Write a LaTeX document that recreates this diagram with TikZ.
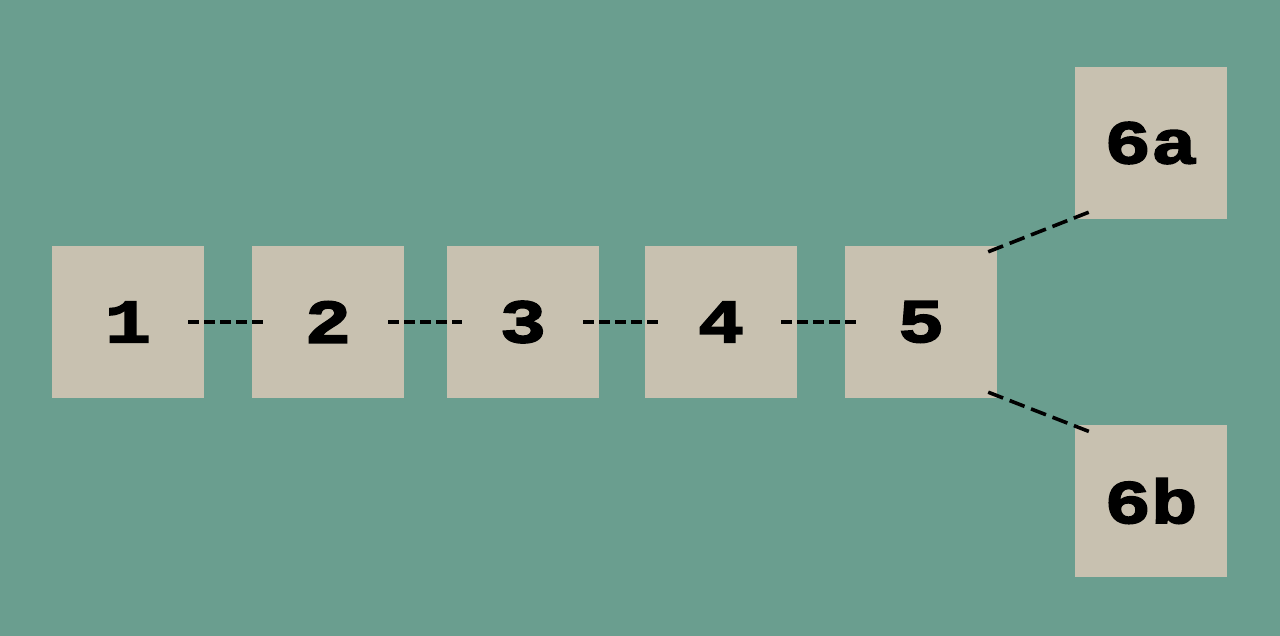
\documentclass[tikz,border=0pt]{standalone}
\usepackage{fontspec}
\newfontfamily\boxfont[FakeStretch=1.25,FakeBold=2.5]{Liberation Mono Bold}
\definecolor{bg}{RGB}{106,158,143}
\definecolor{boxc}{RGB}{200,193,176}
\begin{document}
\begin{tikzpicture}[x=1pt,y=-1pt,
  sq/.style={fill=boxc,draw=none,minimum size=152pt,inner sep=0pt,
    font=\boxfont\fontsize{62}{64}\selectfont,text=black},
  hlink/.style={line width=3.3pt,dash pattern=on 11pt off 5pt,shorten <=-16pt,shorten >=-15pt},
  dlink/.style={line width=3.6pt,dash pattern=on 16pt off 7pt}]
\fill[bg] (0,0) rectangle (1280,636);
\useasboundingbox (0,0) rectangle (1280,636);
\node[sq] (b1) at (128,322) {1};
\node[sq] (b2) at (328,322) {2};
\node[sq] (b3) at (523,322) {3};
\node[sq] (b4) at (721,322) {4};
\node[sq] (b5) at (921,322) {5};
\node[sq] (b6a) at (1151,143) {6a};
\node[sq] (b6b) at (1151,501) {6b};
\draw[hlink] (b1.east) -- (b2.west);
\draw[hlink] (b2.east) -- (b3.west);
\draw[hlink] (b3.east) -- (b4.west);
\draw[hlink] (b4.east) -- (b5.west);
\coordinate (p5a) at ([xshift=-9pt,yshift=-6pt]b5.north east);
\coordinate (p6a) at ([xshift=14pt,yshift=7pt]b6a.south west);
\coordinate (p5b) at ([xshift=-9pt,yshift=6pt]b5.south east);
\coordinate (p6b) at ([xshift=15pt,yshift=-7pt]b6b.north west);
\draw[dlink] (p5a) -- (p6a);
\draw[dlink] (p5b) -- (p6b);
\end{tikzpicture}
\end{document}
